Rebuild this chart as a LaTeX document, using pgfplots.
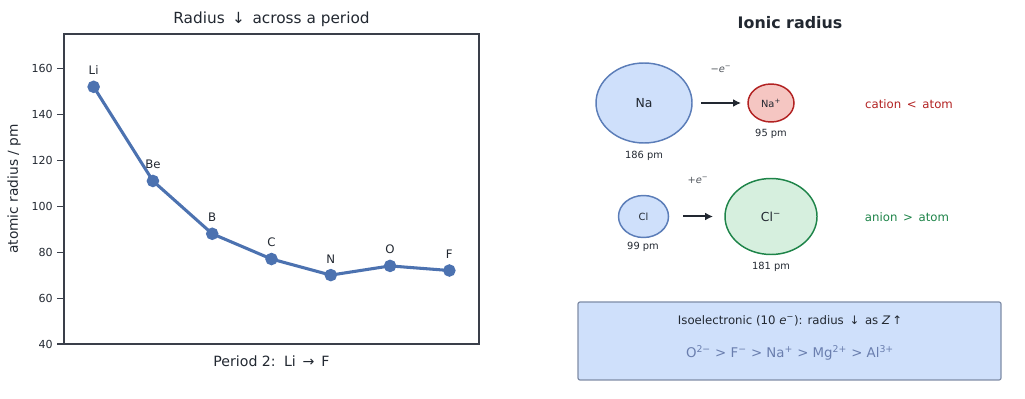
\documentclass[border=0pt]{standalone}
\usepackage{fontspec}
\setmainfont{DejaVu Sans}
\usepackage{pgfplots}
\pgfplotsset{compat=1.18}
\usetikzlibrary{arrows.meta}
\definecolor{lineblue}{HTML}{4C72B0}
\definecolor{axcol}{HTML}{3A3F4A}
\definecolor{txt}{HTML}{222831}
\definecolor{nafill}{HTML}{CFE0FB}
\definecolor{naedge}{HTML}{5B7DB8}
\definecolor{redfill}{HTML}{F5C6C2}
\definecolor{rededge}{HTML}{B22222}
\definecolor{greenfill}{HTML}{D6EFDE}
\definecolor{greenedge}{HTML}{1E8449}
\definecolor{boxedge}{HTML}{7F8CA6}
\definecolor{line2}{HTML}{6A7EAE}
\newcommand{\sups}[1]{\textsuperscript{#1}}
\begin{document}
\begin{tikzpicture}
\useasboundingbox (0,0) rectangle (768.75pt,299.25pt);
% overlay panel in pixel coordinates
\begin{axis}[
  at={(0,0)}, anchor=south west,
  width=768.75pt, height=299.25pt, scale only axis,
  xmin=0, xmax=1025, ymin=0, ymax=399, y dir=reverse,
  axis lines=none, clip=false,
]
\node[font=\bfseries\fontsize{11.9}{14}\selectfont, text=txt] at (axis cs:790,23) {Ionic radius};
% Na -> Na+
\draw[naedge, fill=nafill, line width=1.1pt] (axis cs:644,103) ellipse [x radius=48, y radius=40];
\node[font=\fontsize{9.3}{11}\selectfont, text=txt] at (axis cs:644,103) {Na};
\node[font=\fontsize{7.4}{9}\selectfont, text=txt] at (axis cs:644,156) {186 pm};
\draw[txt, line width=1.5pt, -{Latex[length=6pt,width=6pt]}] (axis cs:701,103) -- (axis cs:741,103);
\node[font=\fontsize{7.4}{9}\selectfont, text=txt!80] at (axis cs:721,69) {−\textit{e}\sups{−}};
\draw[rededge, fill=redfill, line width=1.1pt] (axis cs:771,103) ellipse [x radius=23, y radius=19];
\node[font=\fontsize{7.4}{9}\selectfont, text=txt] at (axis cs:771,103) {Na\sups{+}};
\node[font=\fontsize{7.4}{9}\selectfont, text=txt] at (axis cs:771,134) {95 pm};
\node[font=\fontsize{8.8}{10}\selectfont, text=rededge] at (axis cs:909,104) {cation \,<\, atom};
% Cl -> Cl-
\draw[naedge, fill=nafill, line width=1.1pt] (axis cs:643.5,216.5) ellipse [x radius=25, y radius=21];
\node[font=\fontsize{7.4}{9}\selectfont, text=txt] at (axis cs:643.5,216.5) {Cl};
\node[font=\fontsize{7.4}{9}\selectfont, text=txt] at (axis cs:643,247) {99 pm};
\draw[txt, line width=1.5pt, -{Latex[length=6pt,width=6pt]}] (axis cs:683,216.5) -- (axis cs:713,216.5);
\node[font=\fontsize{7.4}{9}\selectfont, text=txt!80] at (axis cs:698,180) {+\textit{e}\sups{−}};
\draw[greenedge, fill=greenfill, line width=1.1pt] (axis cs:771,216.5) ellipse [x radius=46, y radius=38];
\node[font=\fontsize{9.3}{11}\selectfont, text=txt] at (axis cs:771,216.5) {Cl\sups{−}};
\node[font=\fontsize{7.4}{9}\selectfont, text=txt] at (axis cs:771,267) {181 pm};
\node[font=\fontsize{8.8}{10}\selectfont, text=greenedge] at (axis cs:907,217) {anion \,>\, atom};
% isoelectronic box
\draw[boxedge, fill=nafill, line width=0.9pt, rounded corners=1.5pt] (axis cs:578,302) rectangle (axis cs:1001,380);
\node[font=\fontsize{8.8}{10}\selectfont, text=txt] at (axis cs:790,321) {Isoelectronic (10 \textit{e}\sups{−}): radius \,↓\, as \textit{Z}\,↑};
\node[font=\fontsize{10}{12}\selectfont, text=line2] at (axis cs:790,353) {O\sups{2−} > F\sups{−} > Na\sups{+} > Mg\sups{2+} > Al\sups{3+}};
\end{axis}
% left chart
\begin{axis}[
  at={(48pt,41.25pt)}, anchor=south west,
  width=311.25pt, height=232.5pt, scale only axis,
  xmin=-0.5, xmax=6.5, ymin=40, ymax=175,
  xtick=\empty,
  ytick={40,60,80,100,120,140,160},
  ytick pos=left, tick align=outside,
  major tick length=5pt,
  axis line style={axcol, line width=0.9pt},
  every tick/.style={axcol, line width=0.8pt},
  /pgf/number format/assume math mode=true,
  yticklabel style={font=\fontsize{8.3}{10}\selectfont, text=txt},
  title={Radius \,↓\, across a period},
  title style={at={(axis description cs:0.5,1)}, anchor=base, yshift=2pt, font=\fontsize{11.5}{13}\selectfont, text=txt},
  xlabel={Period 2: \,Li \,→\, F},
  xlabel style={at={(axis description cs:0.5,0)}, anchor=base, yshift=-17pt, font=\fontsize{10.6}{12}\selectfont, text=txt},
  ylabel={atomic radius / pm},
  ylabel style={at={(axis description cs:-0.1205,0.5)}, anchor=center, font=\fontsize{10.3}{12}\selectfont, text=txt},
]
\addplot[color=lineblue, line width=2.3pt, mark=*, mark size=3.5pt, mark options={fill=lineblue, draw=lineblue},
  nodes near coords, point meta=explicit symbolic,
  nodes near coords style={anchor=south, yshift=4.5pt, font=\fontsize{8.8}{10}\selectfont, text=txt}]
  table[meta=label] {
x y label
0 152 Li
1 111 Be
2 88 B
3 77 C
4 70 N
5 74 O
6 72 F
};
\end{axis}
\end{tikzpicture}
\end{document}
